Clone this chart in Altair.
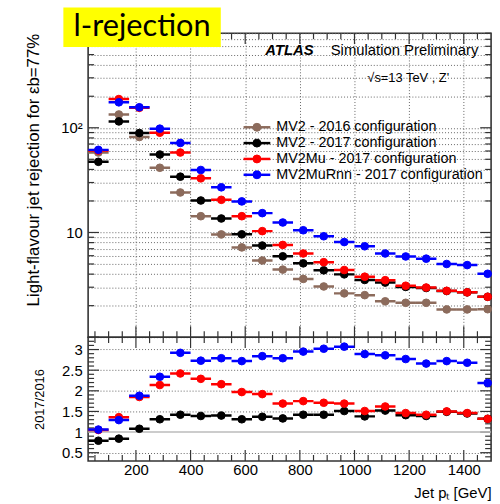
import altair as alt
import pandas as pd

FONT = "Liberation Sans"

# ---------------- data ----------------
pt_low = [25, 100, 175, 250, 325, 400, 475, 550, 625, 700,
          775, 850, 925, 1000, 1075, 1150, 1225, 1300, 1375, 1450]
pt_high = [100, 175, 250, 325, 400, 475, 550, 625, 700, 775,
           850, 925, 1000, 1075, 1150, 1225, 1300, 1375, 1450, 1525]
pt_center = [62.5, 137.5, 212.5, 287.5, 362.5, 437.5, 512.5, 587.5, 662.5, 737.5,
             812.5, 887.5, 962.5, 1037.5, 1112.5, 1187.5, 1262.5, 1337.5, 1412.5, 1487.5]

series_names = ["MV2 - 2016 configuration", "MV2 - 2017 configuration",
                "MV2Mu - 2017 configuration", "MV2MuRnn - 2017 configuration"]
series_colors = ["#8c6b5c", "#000000", "#ff0000", "#0000ff"]

rej_mv2_2016 = [58, 134, 81.6, 41.5, 24.1, 14.3, 9.58, 7.2, 5.4, 4.42,
                3.6, 3.05, 2.62, 2.52, 2.2, 2.13, 2.13, 1.84, 1.84, 1.85]
rej_mv2_2017 = [47.3, 115, 89, 55.5, 34.1, 20.2, 13.6, 9.6, 7.5, 5.92,
                5.07, 4.35, 3.98, 3.52, 3.32, 3.02, 2.95, 2.76, 2.68, 2.43]
rej_mv2mu_2017 = [60.5, 188, 155, 89.7, 58, 32.9, 20.5, 14.3, 10.3, 7.6,
                  6.3, 5.2, 4.38, 3.78, 3.5, 3.1, 2.98, 2.77, 2.68, 2.43]
rej_mv2murnn_2017 = [61.5, 175, 157, 98, 71.6, 39.5, 27.0, 19.8, 15.3, 12.45,
                     10.5, 9.2, 8.1, 7.38, 6.3, 5.9, 5.62, 5.0, 4.88, 4.03]

ratio_mv2_2017 = [0.79, 0.84, 1.08, 1.31, 1.42, 1.39, 1.40, 1.31, 1.37, 1.33,
                  1.42, 1.42, 1.51, 1.38, 1.52, 1.41, 1.39, 1.49, 1.45, 1.32]
ratio_mv2mu_2017 = [1.05, 1.36, 1.85, 2.14, 2.42, 2.29, 2.16, 1.97, 1.92, 1.69,
                    1.75, 1.71, 1.69, 1.51, 1.62, 1.46, 1.42, 1.50, 1.46, 1.32]
ratio_mv2murnn_2017 = [1.06, 1.29, 1.88, 2.34, 2.92, 2.73, 2.79, 2.72, 2.84, 2.79,
                       2.95, 3.02, 3.07, 2.89, 2.86, 2.77, 2.66, 2.72, 2.68, 2.19]

x_ticks = list(range(50, 1500, 50))
y_top_ticks = [1, 2, 3, 4, 5, 6, 7, 8, 9, 10, 20, 30, 40, 50, 60, 70, 80, 90,
               100, 200, 300, 400, 500, 600, 700, 800]
y_bot_ticks = [round(0.1 * k, 1) for k in range(4, 33)]

# ---------------- tables ----------------
rows = []
for name, vals in zip(series_names, [rej_mv2_2016, rej_mv2_2017, rej_mv2mu_2017, rej_mv2murnn_2017]):
    for c, lo, hi, v in zip(pt_center, pt_low, pt_high, vals):
        rows.append({"pt": c, "lo": lo, "hi": hi, "val": v, "series": name})
df_top = pd.DataFrame(rows)

rows = []
for name, vals in zip(series_names[1:], [ratio_mv2_2017, ratio_mv2mu_2017, ratio_mv2murnn_2017]):
    for c, lo, hi, v in zip(pt_center, pt_low, pt_high, vals):
        rows.append({"pt": c, "lo": lo, "hi": hi, "ratio": v, "series": name})
df_bot = pd.DataFrame(rows)

df_leg = pd.DataFrame({"series": series_names, "idx": list(range(len(series_names)))})

W = 407
H_TOP = 307
H_BOT = 125
MAJ = 11
MIN = 6
TICK_COLOR = "#333333"

color_scale = alt.Scale(domain=series_names, range=series_colors)
x_scale = alt.Scale(domain=[25, 1500], nice=False, zero=False)
y_top_scale = alt.Scale(type="log", domain=[1, 800], nice=False)
y_bot_scale = alt.Scale(domain=[0.3, 3.3], nice=False, zero=False)

grid_common = dict(gridDash=[1, 2], gridColor="#666666", gridWidth=1)

x_top_axis = alt.Axis(values=x_ticks, labels=False, title=None, domain=False, ticks=False,
                      grid=True,
                      gridOpacity={"condition": {"test": "datum.value % 200 == 0", "value": 1}, "value": 0},
                      **grid_common)

y_top_axis = alt.Axis(values=y_top_ticks,
                      labelExpr="datum.value == 10 ? '10' : (datum.value == 100 ? '10²' : '')",
                      labelOverlap=False, domain=False, ticks=False, grid=True, **grid_common,
                      labelFont=FONT, labelFontSize=15, labelColor="#000000", labelPadding=6,
                      title="Light-flavour jet rejection for εb=77%", titleFont=FONT,
                      titleFontSize=17, titleFontWeight="normal", titleColor="#000000",
                      titleAnchor="end", titlePadding=18)


def edge_ticks_y(values, field, scale, axis, major_expr, height, width):
    """Inward ticks on the left and right frame edges of a panel."""
    df = pd.DataFrame({field: values})
    layers = []
    for side in ("left", "right"):
        if side == "left":
            calc = dict(xa="0", xb=f"({major_expr}) ? {MAJ} : {MIN}")
        else:
            calc = dict(xa=f"{width} - (({major_expr}) ? {MAJ} : {MIN})", xb=f"{width}")
        layers.append(
            alt.Chart(df).transform_calculate(**calc).mark_rule(
                color=TICK_COLOR, strokeWidth=1.2).encode(
                y=alt.Y(f"{field}:Q", scale=scale, axis=axis),
                x=alt.X("xa:Q", scale=None, axis=None),
                x2="xb:Q",
            ))
    return layers


def edge_ticks_x(values, scale, axis, height):
    """Inward ticks on the top and bottom frame edges of a panel."""
    df = pd.DataFrame({"pt": values})
    major_expr = "datum.pt % 200 == 0"
    layers = []
    for side in ("top", "bottom"):
        if side == "top":
            calc = dict(ya="0", yb=f"({major_expr}) ? {MAJ} : {MIN}")
        else:
            calc = dict(ya=f"{height} - (({major_expr}) ? {MAJ} : {MIN})", yb=f"{height}")
        layers.append(
            alt.Chart(df).transform_calculate(**calc).mark_rule(
                color=TICK_COLOR, strokeWidth=1.2).encode(
                x=alt.X("pt:Q", scale=scale, axis=axis),
                y=alt.Y("ya:Q", scale=None, axis=None),
                y2="yb:Q",
            ))
    return layers


base_top = alt.Chart(df_top)
bars_top = base_top.mark_rule(strokeWidth=2.5, clip=True).encode(
    x=alt.X("lo:Q", scale=x_scale, axis=x_top_axis),
    x2="hi:Q",
    y=alt.Y("val:Q", scale=y_top_scale, axis=y_top_axis),
    color=alt.Color("series:N", scale=color_scale, legend=None),
)
pts_top = base_top.mark_point(filled=True, size=60, opacity=1, strokeWidth=1).encode(
    x=alt.X("pt:Q", scale=x_scale, axis=x_top_axis),
    y=alt.Y("val:Q", scale=y_top_scale, axis=y_top_axis),
    fill=alt.Fill("series:N", scale=color_scale, legend=None),
    stroke=alt.Stroke("series:N", scale=color_scale, legend=None),
)

# legend drawn as marks (pixel layout computed in a transform)
leg_base = alt.Chart(df_leg).transform_calculate(ly="95 + 16 * datum.idx")
leg_lines = leg_base.mark_rule(strokeWidth=2.5).encode(
    x=alt.value(157), x2=alt.value(184),
    y=alt.Y("ly:Q", scale=None, axis=None),
    color=alt.Color("series:N", scale=color_scale, legend=None),
)
leg_pts = leg_base.mark_point(filled=True, size=64, opacity=1, strokeWidth=1).encode(
    x=alt.value(170.5),
    y=alt.Y("ly:Q", scale=None, axis=None),
    fill=alt.Fill("series:N", scale=color_scale, legend=None),
    stroke=alt.Stroke("series:N", scale=color_scale, legend=None),
)
leg_text = leg_base.mark_text(font=FONT, fontSize=14.5, align="left", baseline="middle",
                              color="#000000").encode(
    x=alt.value(190), y=alt.Y("ly:Q", scale=None, axis=None), text="series:N")

one = pd.DataFrame({"t": ["x"]})
box = alt.Chart(one).mark_rect(color="#ffff00").encode(
    x=alt.value(-25), x2=alt.value(134), y=alt.value(-26), y2=alt.value(14))
box_text = alt.Chart(pd.DataFrame({"t": ["l-rejection"]})).mark_text(
    font="Lato", fontSize=31, align="center", baseline="middle", color="#000000").encode(
    x=alt.value(54.5), y=alt.value(-6), text="t:N")
atlas = alt.Chart(pd.DataFrame({"t": ["ATLAS"]})).mark_text(
    font=FONT, fontSize=15, fontWeight="bold", fontStyle="italic", align="left",
    baseline="middle", color="#000000").encode(x=alt.value(179), y=alt.value(17), text="t:N")
simprel = alt.Chart(pd.DataFrame({"t": ["Simulation Preliminary"]})).mark_text(
    font=FONT, fontSize=15, align="left", baseline="middle", color="#000000").encode(
    x=alt.value(245), y=alt.value(17), text="t:N")
energy = alt.Chart(pd.DataFrame({"t": ["√s=13 TeV , Z'"]})).mark_text(
    font=FONT, fontSize=13, align="left", baseline="middle", color="#000000").encode(
    x=alt.value(282), y=alt.value(45), text="t:N")

top_ticks = (edge_ticks_y(y_top_ticks, "val", y_top_scale, y_top_axis,
                          "datum.val == 1 || datum.val == 10 || datum.val == 100", H_TOP, W)
             + edge_ticks_x(x_ticks, x_scale, x_top_axis, H_TOP))

top = alt.layer(*top_ticks, bars_top, pts_top, leg_lines, leg_pts, leg_text,
                box, box_text, atlas, simprel, energy).properties(width=W, height=H_TOP)

# ---------------- ratio panel ----------------
x_bot_axis = alt.Axis(values=x_ticks, labelExpr="datum.value % 200 == 0 ? format(datum.value, 'd') : ''",
                      labelOverlap=False, labelFlush=False, grid=False, domain=False, ticks=False,
                      labelFont=FONT, labelFontSize=15, labelColor="#000000", labelPadding=2,
                      title="Jet pₜ [GeV]", titleFont=FONT, titleFontSize=15,
                      titleFontWeight="normal", titleColor="#000000", titleAnchor="end",
                      titlePadding=8)
half_test = "abs(datum.value * 2 - round(datum.value * 2)) < 0.01"
y_bot_axis = alt.Axis(values=y_bot_ticks,
                      labelExpr=half_test + " ? format(datum.value, '') : ''",
                      labelOverlap=False, domain=False, ticks=False, grid=True, **grid_common,
                      gridOpacity={"condition": {"test": half_test + " && datum.value != 1", "value": 1}, "value": 0},
                      labelFont=FONT, labelFontSize=15, labelColor="#000000", labelPadding=6,
                      title="2017/2016", titleFont=FONT, titleFontSize=13,
                      titleFontWeight="normal", titleColor="#000000", titlePadding=15)

base_bot = alt.Chart(df_bot)
ref_line = alt.Chart(pd.DataFrame({"ratio": [1.0]})).mark_rule(color="#bbbbbb", strokeWidth=1.5).encode(
    y=alt.Y("ratio:Q", scale=y_bot_scale, axis=y_bot_axis))
bars_bot = base_bot.mark_rule(strokeWidth=2.5, clip=True).encode(
    x=alt.X("lo:Q", scale=x_scale, axis=x_bot_axis),
    x2="hi:Q",
    y=alt.Y("ratio:Q", scale=y_bot_scale, axis=y_bot_axis),
    color=alt.Color("series:N", scale=color_scale, legend=None),
)
pts_bot = base_bot.mark_point(filled=True, size=60, opacity=1, strokeWidth=1).encode(
    x=alt.X("pt:Q", scale=x_scale, axis=x_bot_axis),
    y=alt.Y("ratio:Q", scale=y_bot_scale, axis=y_bot_axis),
    fill=alt.Fill("series:N", scale=color_scale, legend=None),
    stroke=alt.Stroke("series:N", scale=color_scale, legend=None),
)

bot_ticks = (edge_ticks_y(y_bot_ticks, "ratio", y_bot_scale, y_bot_axis,
                          half_test.replace("datum.value", "datum.ratio"), H_BOT, W)
             + edge_ticks_x(x_ticks, x_scale, x_bot_axis, H_BOT))

bottom = alt.layer(*bot_ticks, ref_line, bars_bot, pts_bot).properties(width=W, height=H_BOT)

chart = alt.vconcat(top, bottom, spacing=0, bounds="flush").resolve_scale(
    color="independent", fill="independent", stroke="independent"
).configure_view(
    stroke="#333333", strokeWidth=1.6
).properties(
    padding={"left": 24, "top": 4, "right": 5, "bottom": 5},
    background="white",
)

chart.save("out.html", embed_options={"renderer": "svg", "actions": False})
